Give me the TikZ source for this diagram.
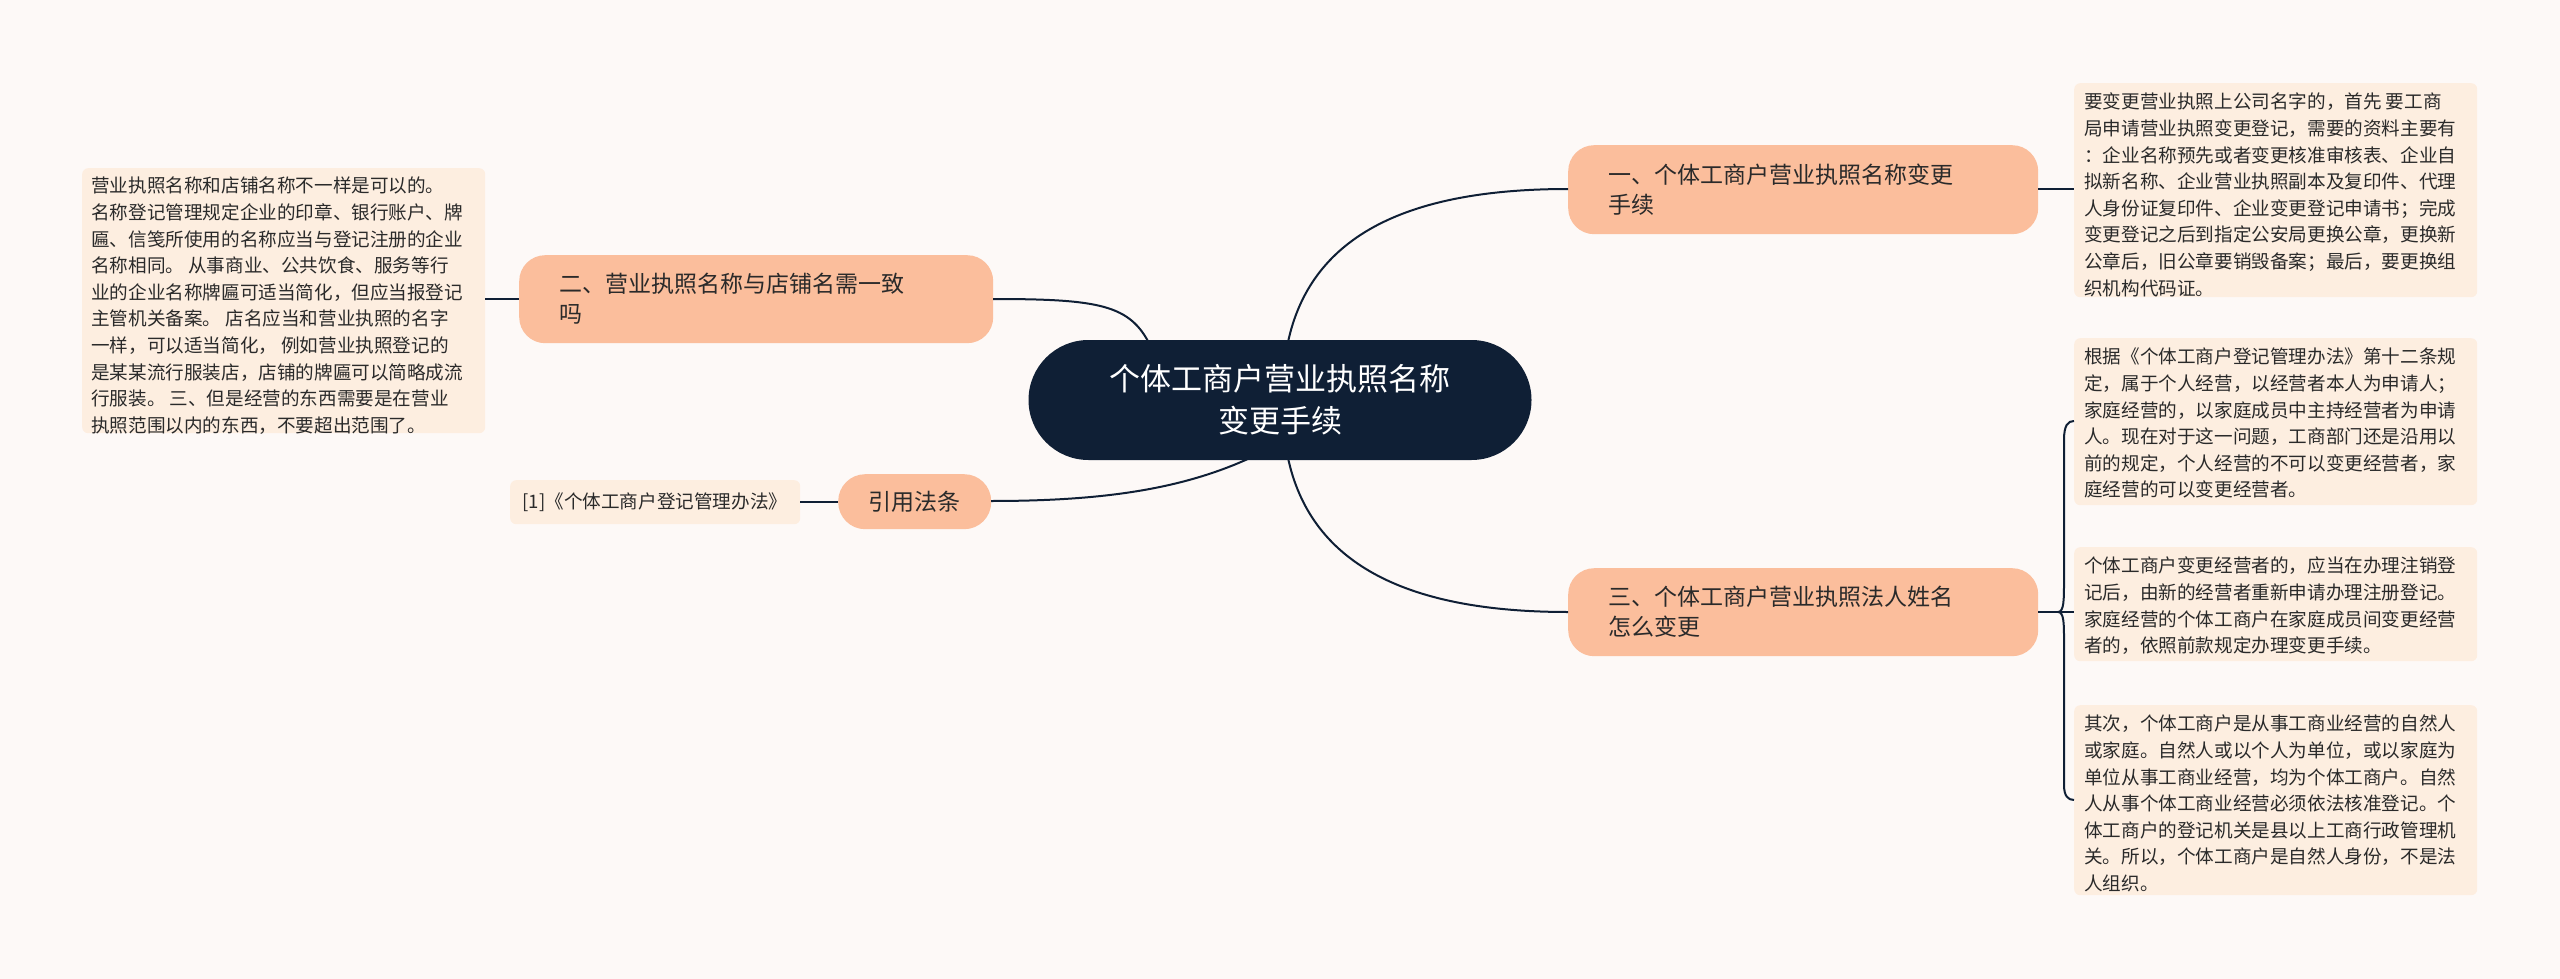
\documentclass[tikz,border=0pt]{standalone}
\usepackage{fontspec}
\setmainfont{Noto Sans CJK SC}
\definecolor{bg}{HTML}{FDF9F7}
\definecolor{navy}{HTML}{0F1F35}
\definecolor{salmon}{HTML}{FBBE9C}
\definecolor{boxc}{HTML}{FDEEE0}
\definecolor{txt}{HTML}{2A2A2A}
\begin{document}
\begin{tikzpicture}[x=1pt,y=-1pt,
 topic/.style={fill=salmon,rounded corners=26pt,font=\fontsize{23}{30}\selectfont,text=txt,align=left,inner sep=0pt,anchor=north west},
 leaf/.style={fill=boxc,rounded corners=6pt,font=\fontsize{18.6}{26.6}\selectfont,text=txt,align=left,inner sep=0pt,anchor=north west},
 conn/.style={draw=navy,line width=2pt}]
\fill[bg] (0,0) rectangle (2560,979);
\useasboundingbox (0,0) rectangle (2560,979);
% center
\node[fill=navy,rounded corners=60pt,minimum width=503pt,minimum height=120pt,text=white,align=center,font=\fontsize{31}{42}\selectfont] (c) at (1280,400) {个体工商户营业执照名称\\变更手续};
% topics
\node[topic,minimum width=470pt,minimum height=89pt] (t1) at (1568,145) {};
\node[anchor=west,font=\fontsize{23}{30}\selectfont,text=txt,align=left] at (1605,189.5) {一、个体工商户营业执照名称变更\\手续};
\node[topic,minimum width=474pt,minimum height=88pt] (t2) at (519,255) {};
\node[anchor=west,font=\fontsize{23}{30}\selectfont,text=txt,align=left] at (556,299) {二、营业执照名称与店铺名需一致\\吗};
\node[topic,minimum width=153pt,minimum height=55pt,rounded corners=27pt] (t3) at (838,474) {};
\node[font=\fontsize{23}{30}\selectfont,text=txt] at (914.5,501.5) {引用法条};
\node[topic,minimum width=470pt,minimum height=88pt] (t4) at (1568,568) {};
\node[anchor=west,font=\fontsize{23}{30}\selectfont,text=txt,align=left] at (1605,612) {三、个体工商户营业执照法人姓名\\怎么变更};
% leaves
\node[leaf,minimum width=403pt,minimum height=214pt] (r1) at (2074,83) {};
\node[anchor=north west,font=\fontsize{18.6}{26.6}\selectfont,text=txt,align=left,inner sep=0pt] at (2084,93) {要变更营业执照上公司名字的，首先 要工商\\局申请营业执照变更登记，需要的资料主要有\\：企业名称预先或者变更核准审核表、企业自\\拟新名称、企业营业执照副本及复印件、代理\\人身份证复印件、企业变更登记申请书；完成\\变更登记之后到指定公安局更换公章，更换新\\公章后，旧公章要销毁备案；最后，要更换组\\织机构代码证。};
\node[leaf,minimum width=403pt,minimum height=167pt] (r2) at (2074,338) {};
\node[anchor=north west,font=\fontsize{18.6}{26.6}\selectfont,text=txt,align=left,inner sep=0pt] at (2084,348) {根据《个体工商户登记管理办法》第十二条规\\定，属于个人经营，以经营者本人为申请人；\\家庭经营的，以家庭成员中主持经营者为申请\\人。现在对于这一问题，工商部门还是沿用以\\前的规定，个人经营的不可以变更经营者，家\\庭经营的可以变更经营者。};
\node[leaf,minimum width=403pt,minimum height=114pt] (r3) at (2074,547) {};
\node[anchor=north west,font=\fontsize{18.6}{26.6}\selectfont,text=txt,align=left,inner sep=0pt] at (2084,557) {个体工商户变更经营者的，应当在办理注销登\\记后，由新的经营者重新申请办理注册登记。\\家庭经营的个体工商户在家庭成员间变更经营\\者的，依照前款规定办理变更手续。};
\node[leaf,minimum width=403pt,minimum height=190pt] (r4) at (2074,705) {};
\node[anchor=north west,font=\fontsize{18.6}{26.6}\selectfont,text=txt,align=left,inner sep=0pt] at (2084,715) {其次，个体工商户是从事工商业经营的自然人\\或家庭。自然人或以个人为单位，或以家庭为\\单位从事工商业经营，均为个体工商户。自然\\人从事个体工商业经营必须依法核准登记。个\\体工商户的登记机关是县以上工商行政管理机\\关。所以，个体工商户是自然人身份，不是法\\人组织。};
\node[leaf,minimum width=403pt,minimum height=265pt] (l1) at (82,168) {};
\node[anchor=north west,font=\fontsize{18.6}{26.6}\selectfont,text=txt,align=left,inner sep=0pt] at (91,177) {营业执照名称和店铺名称不一样是可以的。\\名称登记管理规定企业的印章、银行账户、牌\\匾、信笺所使用的名称应当与登记注册的企业\\名称相同。 从事商业、公共饮食、服务等行\\业的企业名称牌匾可适当简化，但应当报登记\\主管机关备案。 店名应当和营业执照的名字\\一样，可以适当简化， 例如营业执照登记的\\是某某流行服装店，店铺的牌匾可以简略成流\\行服装。 三、但是经营的东西需要是在营业\\执照范围以内的东西，不要超出范围了。};
\node[leaf,minimum width=290pt,minimum height=44pt] (l2) at (510,480) {};
\node[font=\fontsize{18.6}{26.6}\selectfont,text=txt] at (655,502) {[1]《个体工商户登记管理办法》};
% connectors
\coordinate (c1) at (1288,342);
\coordinate (c4) at (1288,458);
\coordinate (c2) at (1150,345);
\coordinate (c3) at (1250,458);
\draw[conn] (c1) .. controls (1310,240) and (1400,189) .. (1568,189);
\draw[conn] (c4) .. controls (1310,560) and (1400,612) .. (1568,612);
\draw[conn] (c2) .. controls (1130,305) and (1100,299) .. (993,299);
\draw[conn] (c3) .. controls (1180,490) and (1100,501) .. (991,501);
\draw[conn] (2038,189) -- (2074,189);
\draw[conn] (l1.east |- 0,299) -- (519,299);
\draw[conn] (800,502) -- (838,502);
\coordinate (b) at (2038,612);
\draw[conn] (b) -- (2058,612);
\draw[conn] (2058,612) .. controls (2064,612) and (2064,600) .. (2064,580) -- (2064,440) .. controls (2064,425) and (2068,421) .. (2074,421);
\draw[conn] (2058,612) -- (2074,612);
\draw[conn] (2058,612) .. controls (2064,612) and (2064,624) .. (2064,640) -- (2064,785) .. controls (2064,796) and (2068,800) .. (2074,800);
\end{tikzpicture}
\end{document}
